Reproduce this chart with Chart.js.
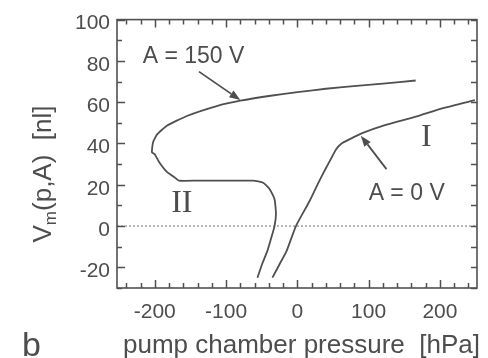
<!DOCTYPE html>
<html>
<head>
<meta charset="utf-8">
<script src="https://cdn.jsdelivr.net/npm/chart.js@4/dist/chart.umd.min.js"></script>
<style>
  body { margin: 0; background: #fff; }
  canvas { display: block; }
</style>
</head>
<body>
<canvas id="volume" width="488" height="358"></canvas>
<script>

/* pumped volume vs. pump chamber pressure */

// A = 150 V : upper branch, turning round at about -200 hPa into branch II
var pressureHigh = [166, 120, 87, 40, 3, -40, -80, -113, -155, -183, -197, -202.5, -204, -200, -194, -183, -173, -166, -140, -100, -62, -48, -39, -32, -30, -32, -36, -42, -49, -56];
var volumeHigh   = [70.5, 69, 68, 66.5, 65, 63, 60.7, 58.1, 53.3, 48.6, 44.3, 40.5, 35.7, 34.8, 31, 26.2, 23.8, 22, 22, 22, 22, 21, 18, 13, 6, 0, -5, -12, -18, -25];

// A = 0 V : branch I
var pressureZero = [-35, -25, -15, -2, 17, 31, 40, 47, 54, 62, 73, 91, 124, 166, 203, 249];
var volumeZero   = [-25, -18.5, -12, 0, 12, 22, 28, 32.5, 37, 40, 42, 45, 49, 53, 57, 61];

// dotted zero line
var zeroLineX = [-253, 252];
var zeroLineY = [0, 0];

var xTicks = [-200, -100, 0, 100, 200];
var yTicks = [-20, 0, 20, 40, 60, 80, 100];

function toPoints(xs, ys) {
	var pts = [];
	xs.forEach(function(x, i) {
		pts.push({ x: x, y: ys[i] });
	});
	return pts;
}

var ink = '#4d4d4d';
var lineInk = '#505050';

// labels and arrows, placed in data units
var notes = [
	{ text: 'A = 150 V', x: -217, y: 82, font: '23px "Liberation Sans", Arial, sans-serif' },
	{ text: 'A = 0 V', x: 100, y: 15.7, font: '23px "Liberation Sans", Arial, sans-serif' },
	{ text: 'I', x: 181, y: 43, font: '32px "Liberation Serif", "Times New Roman", serif', center: true },
	{ text: 'II', x: -162, y: 11, font: '32px "Liberation Serif", "Times New Roman", serif', center: true }
];
var arrows = [
	{ from: [-138, 74.8], to: [-80, 61] },
	{ from: [125, 27.6], to: [89, 43.8] }
];

var decorations = {
	id: 'decorations',
	afterDatasetsDraw: function(chart) {
		var ctx = chart.ctx;
		var area = chart.chartArea;
		var xs = chart.scales.x;
		var ys = chart.scales.y;

		ctx.save();

		// frame
		ctx.strokeStyle = lineInk;
		ctx.lineWidth = 1.6;
		ctx.strokeRect(area.left, area.top, area.right - area.left, area.bottom - area.top);

		// inward ticks on all four sides
		ctx.lineWidth = 1.5;
		ctx.beginPath();
		for (var v = -240; v <= 240; v += 20) {
			var px = Math.round(xs.getPixelForValue(v)) + 0.5;
			var len = (v % 100 === 0) ? 8 : 5;
			ctx.moveTo(px, area.bottom);
			ctx.lineTo(px, area.bottom - len);
			ctx.moveTo(px, area.top);
			ctx.lineTo(px, area.top + len);
		}
		for (var w = -30; w <= 100; w += 10) {
			var py = Math.round(ys.getPixelForValue(w)) + 0.5;
			var l = (w % 20 === 0) ? 8 : 5;
			ctx.moveTo(area.left, py);
			ctx.lineTo(area.left + l, py);
			ctx.moveTo(area.right, py);
			ctx.lineTo(area.right - 6, py);
		}
		ctx.stroke();

		// arrows
		ctx.fillStyle = ink;
		arrows.forEach(function(a) {
			var x0 = xs.getPixelForValue(a.from[0]), y0 = ys.getPixelForValue(a.from[1]);
			var x1 = xs.getPixelForValue(a.to[0]), y1 = ys.getPixelForValue(a.to[1]);
			var ang = Math.atan2(y1 - y0, x1 - x0);
			var head = 11, half = 4;
			ctx.lineWidth = 1.8;
			ctx.strokeStyle = ink;
			ctx.beginPath();
			ctx.moveTo(x0, y0);
			ctx.lineTo(x1 - head * Math.cos(ang), y1 - head * Math.sin(ang));
			ctx.stroke();
			ctx.beginPath();
			ctx.moveTo(x1, y1);
			ctx.lineTo(x1 - head * Math.cos(ang) + half * Math.sin(ang), y1 - head * Math.sin(ang) - half * Math.cos(ang));
			ctx.lineTo(x1 - head * Math.cos(ang) - half * Math.sin(ang), y1 - head * Math.sin(ang) + half * Math.cos(ang));
			ctx.closePath();
			ctx.fill();
		});

		// labels
		ctx.textBaseline = 'middle';
		notes.forEach(function(n) {
			ctx.font = n.font;
			ctx.textAlign = n.center ? 'center' : 'left';
			ctx.fillText(n.text, xs.getPixelForValue(n.x), ys.getPixelForValue(n.y));
		});

		// x title
		ctx.textBaseline = 'alphabetic';
		ctx.textAlign = 'left';
		ctx.font = '26px "Liberation Sans", Arial, sans-serif';
		ctx.fillText('pump chamber pressure  [hPa]', 123, 353);

		// panel letter
		ctx.font = '34px "Liberation Sans", Arial, sans-serif';
		ctx.fillText('b', 22, 356);

		// y title with subscript
		var big = '26px "Liberation Sans", Arial, sans-serif';
		var small = '17px "Liberation Sans", Arial, sans-serif';
		ctx.font = big;
		var wV = ctx.measureText('V').width;
		var wRest = ctx.measureText('(p,A)  [nl]').width;
		ctx.font = small;
		var wm = ctx.measureText('m').width;
		var total = wV + wm + wRest;
		ctx.translate(51, 174);
		ctx.rotate(-Math.PI / 2);
		var x = -total / 2;
		ctx.font = big;
		ctx.fillText('V', x, 0);
		x += wV;
		ctx.font = small;
		ctx.fillText('m', x, 5);
		x += wm;
		ctx.font = big;
		ctx.fillText('(p,A)  [nl]', x, 0);

		ctx.restore();
	}
};

var volumeChart = new Chart(document.getElementById('volume'), {
	type: 'scatter',
	data: {
		datasets: [{
			label: 'A = 150 V',
			data: toPoints(pressureHigh, volumeHigh),
			showLine: true,
			borderColor: lineInk,
			borderWidth: 1.8,
			pointRadius: 0,
			tension: 0.15
		}, {
			label: 'A = 0 V',
			data: toPoints(pressureZero, volumeZero),
			showLine: true,
			borderColor: lineInk,
			borderWidth: 1.8,
			pointRadius: 0,
			tension: 0.15
		}, {
			label: 'zero',
			data: toPoints(zeroLineX, zeroLineY),
			showLine: true,
			borderColor: '#8a8a8a',
			borderWidth: 1.2,
			borderDash: [2, 2],
			pointRadius: 0
		}]
	},
	plugins: [decorations],
	options: {
		responsive: false,
		animation: false,
		events: [],
		layout: {
			padding: { top: 15, right: 11, left: 0, bottom: 0 }
		},
		plugins: {
			legend: { display: false },
			tooltip: { enabled: false }
		},
		scales: {
			x: {
				type: 'linear',
				min: -253,
				max: 252,
				grid: { display: false, drawTicks: false },
				border: { display: false },
				afterBuildTicks: function(scale) {
					scale.ticks = xTicks.map(function(v) { return { value: v }; });
				},
				afterFit: function(scale) {
					scale.height = 70;
				},
				ticks: {
					color: ink,
					padding: 12,
					maxRotation: 0,
					font: { family: '"Liberation Sans", Arial, sans-serif', size: 21 }
				}
			},
			y: {
				type: 'linear',
				min: -30,
				max: 100,
				grid: { display: false, drawTicks: false },
				border: { display: false },
				afterBuildTicks: function(scale) {
					scale.ticks = yTicks.map(function(v) { return { value: v }; });
				},
				afterFit: function(scale) {
					scale.width = 117;
				},
				ticks: {
					color: ink,
					padding: 7,
					labelOffset: 4,
					font: { family: '"Liberation Sans", Arial, sans-serif', size: 21 }
				}
			}
		}
	}
});

</script>
</body>
</html>
